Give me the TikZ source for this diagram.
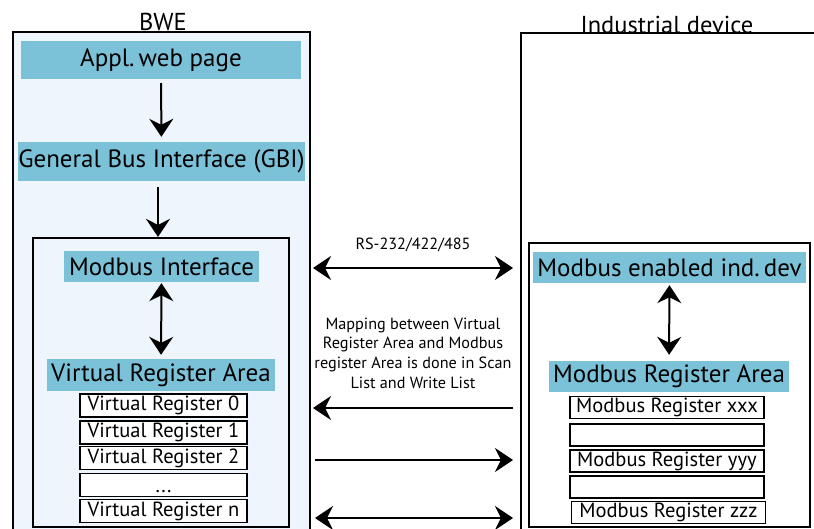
\documentclass[tikz,border=0pt]{standalone}
\usepackage{fontspec}
\setmainfont{PT Sans}
\usetikzlibrary{arrows.meta}
\definecolor{boxblue}{RGB}{123,194,217}
\definecolor{bgblue}{RGB}{238,245,252}
\begin{document}
\begin{tikzpicture}[x=1pt,y=-1pt,
  frame/.style={draw, line width=2.2pt, inner sep=0pt},
  lbl/.style={fill=boxblue, inner sep=0pt, font=\fontsize{25}{28}\selectfont},
  reg/.style={draw, fill=white, line width=1.8pt, inner sep=0pt, font=\fontsize{20.5}{22}\selectfont},
  ttl/.style={inner sep=0pt, font=\fontsize{24.5}{26}\selectfont},
  small/.style={inner sep=0pt, align=center, font=\fontsize{16.2}{19.7}\selectfont},
  arr/.style={line width=2pt, -{Stealth[length=18pt,width=24pt,inset=6pt]}},
  darr/.style={line width=2pt, {Stealth[length=18pt,width=24pt,inset=6pt]}-{Stealth[length=18pt,width=24pt,inset=6pt]}}]
\useasboundingbox (0,0) rectangle (814,529);
% outer frames
\node[frame, fill=bgblue, minimum width=297pt, minimum height=528pt] (bwe) at (161.5,296) {};
\node[frame, fill=white, minimum width=319pt, minimum height=527pt] (ind) at (680.5,296.5) {};
\node[ttl] (bwet) at (163,22) {BWE};
\node[ttl] (indt) at (667,25) {Industrial device};
% inner frames
\node[frame, minimum width=256pt, minimum height=289pt] (inl) at (161,382.5) {};
\node[frame, minimum width=281pt, minimum height=284pt] (inr) at (669.5,385) {};
% left labels
\node[lbl, minimum width=280pt, minimum height=38pt] (appl) at (161,60) {Appl.\,web page};
\node[lbl, minimum width=283pt, minimum height=39pt] (gbi) at (161.5,161.5) {General Bus Interface (GBI)};
\node[lbl, minimum width=195pt, minimum height=31pt] (mbi) at (161.5,266.5) {Modbus Interface};
\node[lbl, minimum width=228pt, minimum height=32pt] (vra) at (161,375) {Virtual Register Area};
\node[reg, minimum width=167pt, minimum height=23pt] (v0) at (163.5,405.5) {Virtual Register 0};
\node[reg, minimum width=167pt, minimum height=23pt] (v1) at (163.5,432.5) {Virtual Register 1};
\node[reg, minimum width=167pt, minimum height=23pt] (v2) at (163.5,458) {Virtual Register 2};
\node[reg, minimum width=167pt, minimum height=23pt, text height=15pt, text depth=0pt] (vd) at (163.5,485) {...};
\node[reg, minimum width=167pt, minimum height=23pt] (vn) at (163.5,511) {Virtual Register n};
% right labels
\node[lbl, minimum width=273pt, minimum height=31pt] (mbe) at (669.5,267.5) {Modbus enabled ind.\,dev};
\node[lbl, minimum width=240pt, minimum height=31pt] (mra) at (669,376.5) {Modbus Register Area};
\node[reg, minimum width=194pt, minimum height=22pt] (m0) at (667,407.5) {Modbus Register xxx};
\node[reg, minimum width=194pt, minimum height=22pt] (m1) at (667,435) {};
\node[reg, minimum width=194pt, minimum height=22pt] (m2) at (667,461) {Modbus Register yyy};
\node[reg, minimum width=194pt, minimum height=22pt] (m3) at (667,487) {};
\node[reg, minimum width=194pt, minimum height=22pt] (m4) at (668.5,512.5) {Modbus Register zzz};
% vertical connectors
\draw[arr, shorten <=4pt, shorten >=5pt] (appl) -- (gbi);
\draw[arr, shorten <=6pt] (gbi.south -| 158,0) -- (inl.north -| 158,0);
\draw[darr, shorten <=1pt, shorten >=4pt] (mbi) -- (vra);
\draw[darr, shorten <=2pt, shorten >=6pt] (mbe) -- (mra);
% middle texts
\node[small] (rs) at (413,245) {RS-232/422/485};
\node[small] (map) at (413,353) {Mapping between Virtual\\Register Area and Modbus\\register Area is done in Scan\\List and Write List};
% horizontal connectors
\coordinate (a1l) at (313,268); \coordinate (a1r) at (513,268);
\coordinate (a2l) at (313,408); \coordinate (a2r) at (513,408);
\coordinate (a3l) at (315,460); \coordinate (a3r) at (513,460);
\coordinate (a4l) at (315,518); \coordinate (a4r) at (513,518);
\draw[darr] (a1l) -- (a1r);
\draw[arr] (a2r) -- (a2l);
\draw[arr] (a3l) -- (a3r);
\draw[darr] (a4l) -- (a4r);
\end{tikzpicture}
\end{document}
